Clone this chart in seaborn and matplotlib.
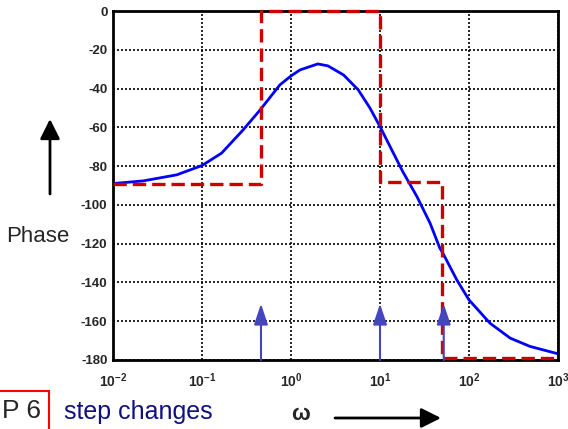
import numpy as np
import pandas as pd
import matplotlib
matplotlib.use('Agg')
import matplotlib.pyplot as plt
import seaborn as sns
from matplotlib.patches import FancyArrowPatch

#------------------------------------------
# phase curve
omega=[0.01, 0.022, 0.052, 0.1, 0.166, 0.29, 0.45, 0.75, 1.0, 1.26, 2.0, 2.6, 3.9, 5.7,
       7.7, 10, 13, 18, 26, 36.5, 47, 51, 73, 100, 172, 290, 485, 1000]
phase=[-89, -87.6, -84.5, -79.7, -73.3, -61.3, -51, -38.1, -33.5, -30.4, -27.3, -28.3, -33, -40.7,
       -50, -59.6, -70, -82.8, -95.7, -109.4, -122.3, -125, -138.7, -149, -161, -168.7, -173, -176.8]

# step (asymptotic) approximation
step_omega=[0.01, 0.46, 0.46, 10, 10, 50, 50, 1000]
step_phase=[-89, -89, 0, 0, -88, -88, -179, -179]

# break frequencies marked with arrows
break_omega=[0.46, 10, 52]

yticks=list(range(0, -181, -20))
xticks=[1e-2, 1e-1, 1e0, 1e1, 1e2, 1e3]
xlabels=[r'$\mathbf{10^{%d}}$' % e for e in range(-2, 4)]

#####################################################
sns.set_style('white')
plt.rcParams['font.family']=['Liberation Sans', 'DejaVu Sans']
plt.rcParams['mathtext.fontset']='custom'
plt.rcParams['mathtext.bf']='Liberation Sans:bold'
plt.rcParams['mathtext.rm']='Liberation Sans'

fig=plt.figure(figsize=(5.68, 4.29), dpi=100)
ax=fig.add_axes([113/568, 1-360/429, 445/568, 349/429])

df=pd.DataFrame({'omega': omega, 'phase': phase})
df_step=pd.DataFrame({'omega': step_omega, 'phase': step_phase})

sns.lineplot(x='omega', y='phase', data=df, ax=ax, color='#0000ff', lw=2, sort=False, estimator=None)
sns.lineplot(x='omega', y='phase', data=df_step, ax=ax, color='#cc0000', lw=2.4, sort=False,
             estimator=None, clip_on=False, zorder=3)
ax.lines[-1].set_dashes([4, 1.8])

for w in break_omega:
    ax.annotate('', xy=(w, -151), xytext=(w, -180),
                arrowprops=dict(arrowstyle='-|>,head_length=0.9,head_width=0.3', color='#4545c0',
                                lw=1.5, mutation_scale=14, shrinkA=0, shrinkB=0))

#adjust
ax.set_xscale('log')
ax.set_xlim(1e-2, 1e3)
ax.set_ylim(-180, 0)
ax.set_xticks(xticks)
ax.set_xticklabels(xlabels, fontsize=10)
ax.set_yticks(yticks)
ax.set_yticklabels([str(t) for t in yticks], fontsize=9.5, weight='bold')
ax.minorticks_off()
ax.tick_params(axis='y', length=0, pad=4)
ax.tick_params(axis='x', length=0, pad=8)
ax.grid(True, color='black', linestyle=(0, (1.2, 1.2)), lw=1.2)
for s in ax.spines.values():
    s.set_color('black')
    s.set_linewidth(2)
ax.set_xlabel('')
ax.set_ylabel('')

#outside annotations
fig.text(38/568, 1-236/429, 'Phase', fontsize=16, ha='center', va='center')
fig.add_artist(FancyArrowPatch((50/568, 1-194/429), (50/568, 1-119/429), transform=fig.transFigure,
                               arrowstyle='-|>,head_length=0.6,head_width=0.3', mutation_scale=20,
                               color='black', lw=2, shrinkA=0, shrinkB=0))
fig.text(2/568, 1-418/429, 'P 6', fontsize=19, ha='left', va='baseline',
         bbox=dict(boxstyle='square,pad=0.3', fc='white', ec='#ff0000', lw=1.5))
fig.text(64/568, 1-419/429, 'step changes', fontsize=18, color='#101080', ha='left', va='baseline')
fig.text(300/568, 1-414/429, 'ω', fontsize=16, weight='bold', ha='center', va='center')
fig.add_artist(FancyArrowPatch((335/568, 1-418/429), (441/568, 1-418/429), transform=fig.transFigure,
                               arrowstyle='-|>,head_length=0.6,head_width=0.3', mutation_scale=20,
                               color='black', lw=2, shrinkA=0, shrinkB=0))

#save
plt.savefig('out.png', dpi=100)
plt.close()
